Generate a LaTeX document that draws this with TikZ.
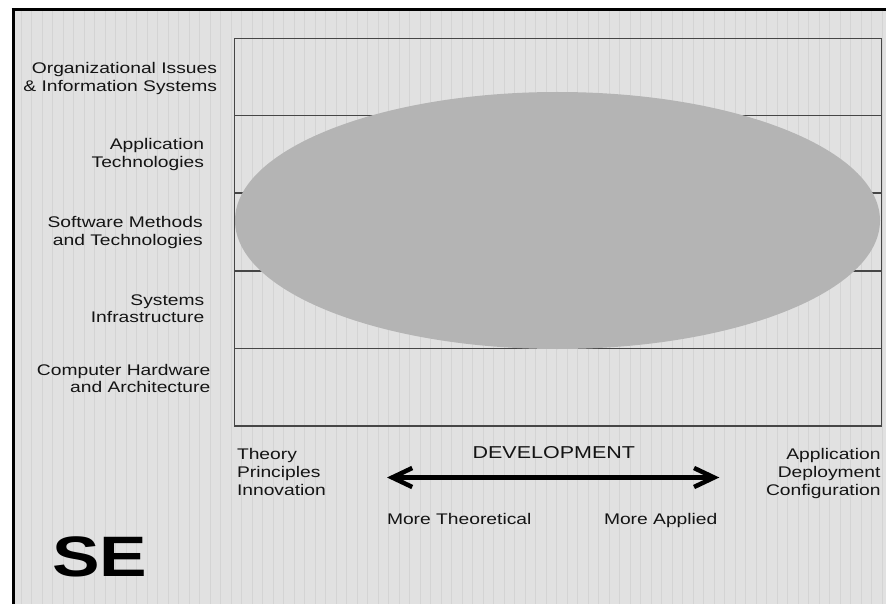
\documentclass[tikz,border=0pt]{standalone}
\usepackage{fontspec}
\setmainfont{Liberation Sans}[FakeStretch=1.25]
\usetikzlibrary{arrows.meta,shapes.geometric}
\definecolor{bgcol}{RGB}{225,225,225}
\definecolor{gridcol}{RGB}{212,212,212}
\definecolor{boxcol}{RGB}{70,70,70}
\definecolor{blobcol}{RGB}{180,180,180}
\definecolor{txtcol}{RGB}{20,20,20}
\tikzset{
  lbl/.style={inner sep=0pt, outer sep=0pt, text=txtcol, font=\fontsize{15.4}{18}\selectfont},
  rowline/.style={draw=boxcol, line width=1.5pt},
  framebar/.style={draw=black, line width=3pt},
  devarrow/.style={line width=4.5pt, {Straight Barb[length=20pt,width=19pt]}-{Straight Barb[length=20pt,width=19pt]}}
}
\begin{document}
\begin{tikzpicture}[x=1pt,y=-1pt]
\useasboundingbox (0,0) rectangle (886,604);
\fill[white] (0,0) rectangle (886,604);
\fill[bgcol] (13,10) rectangle (886,604);
\draw[gridcol, line width=0.6pt, xstep=10.5, ystep=10.5] (14,11) grid (886,604);
\draw[framebar] (11.5,10) -- (886,10);
\draw[framebar] (13,8.5) -- (13,604);
% rows box
\draw[rowline] (234.5,38.5) rectangle (881.5,426);
\foreach \yy in {115.5,193,271,348.5} \draw[rowline] (234.5,\yy) -- (881.5,\yy);
% ellipse
\node[ellipse, fill=blobcol, draw=none, inner sep=0pt, minimum width=645pt, minimum height=257pt] (blob) at (557.5,220.5) {};
% row labels
\node[lbl, anchor=base east] (r1a) at (217,74) {Organizational Issues};
\node[lbl, anchor=base east] (r1b) at (217,92) {\& Information Systems};
\node[lbl, anchor=base east] (r2a) at (204,149.3) {Application};
\node[lbl, anchor=base east] (r2b) at (204,167.3) {Technologies};
\node[lbl, anchor=base east] (r3a) at (202.7,227.3) {Software Methods};
\node[lbl, anchor=base east] (r3b) at (202.7,245) {and Technologies};
\node[lbl, anchor=base east] (r4a) at (204.3,305) {Systems};
\node[lbl, anchor=base east] (r4b) at (204.3,322.3) {Infrastructure};
\node[lbl, anchor=base east] (r5a) at (210.3,375) {Computer Hardware};
\node[lbl, anchor=base east] (r5b) at (210.3,392.3) {and Architecture};
% bottom texts
\node[lbl, anchor=base west] (t1) at (237,459.3) {Theory};
\node[lbl, anchor=base west] (t2) at (237,477.3) {Principles};
\node[lbl, anchor=base west] (t3) at (237,495.3) {Innovation};
\node[lbl, anchor=base east] (a1) at (880.5,459.3) {Application};
\node[lbl, anchor=base east] (a2) at (880.5,477.3) {Deployment};
\node[lbl, anchor=base east] (a3) at (880.5,495.3) {Configuration};
\node[lbl, anchor=base, font=\fontsize{17.2}{20}\selectfont] (dev) at (553.8,458.3) {DEVELOPMENT};
\node[lbl, anchor=base west] (mt) at (387,524) {More Theoretical};
\node[lbl, anchor=base west] (ma) at (604,524) {More Applied};
\coordinate (al) at (387,477.5);
\coordinate (ar) at (719.3,477.5);
\draw[devarrow] (al) -- (ar);
\node[inner sep=0pt, anchor=base west, text=black, font=\fontsize{57}{60}\selectfont\bfseries] (se) at (52,576) {SE};
\end{tikzpicture}
\end{document}
